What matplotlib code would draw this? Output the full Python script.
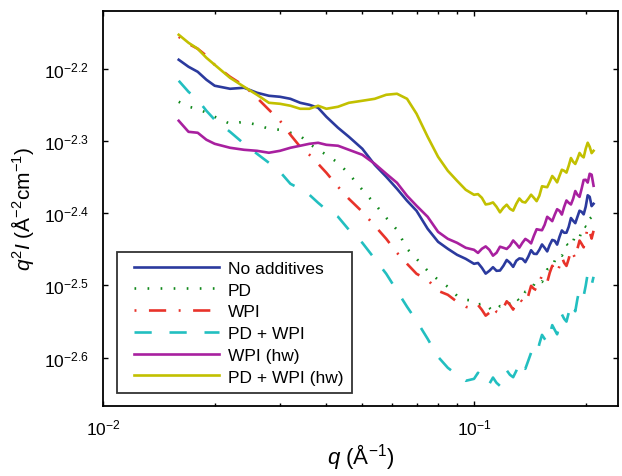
import numpy as np
import matplotlib
matplotlib.use("Agg")
import matplotlib.pyplot as plt
from matplotlib.ticker import FixedLocator, NullLocator, FixedFormatter
from matplotlib.legend_handler import HandlerLine2D
from matplotlib.lines import Line2D

plt.rcParams['font.family'] = ['Liberation Sans', 'DejaVu Sans']
plt.rcParams['mathtext.fontset'] = 'custom'
plt.rcParams['mathtext.rm'] = 'Liberation Sans'
plt.rcParams['mathtext.it'] = 'Liberation Sans:italic'
plt.rcParams['lines.scale_dashes'] = False

# scattering vector q (1/Angstrom)
q = [0.016, 0.017, 0.018, 0.019, 0.020, 0.022, 0.024, 0.026, 0.028, 0.030,
     0.032, 0.034, 0.036, 0.038, 0.040, 0.043, 0.046, 0.050, 0.054, 0.058,
     0.062, 0.066, 0.070, 0.075, 0.080, 0.085, 0.090, 0.095,
     0.1000, 0.1025, 0.1050, 0.1075, 0.1100, 0.1125, 0.1150, 0.1175, 0.1200, 0.1225,
     0.1250, 0.1275, 0.1300, 0.1325, 0.1350, 0.1375, 0.1400, 0.1425, 0.1450, 0.1475,
     0.1500, 0.1525, 0.1550, 0.1575, 0.1600, 0.1625, 0.1650, 0.1675, 0.1700, 0.1725,
     0.1750, 0.1775, 0.1800, 0.1825, 0.1850, 0.1875, 0.1900, 0.1925, 0.1950, 0.1975,
     0.2000, 0.2025, 0.2050, 0.2075, 0.2100]

# log10 of q^2 I (A^-2 cm^-1) for each sample
log_no_additives = [
    -2.1875, -2.1972, -2.2042, -2.2152, -2.2235, -2.2277, -2.2263, -2.2332, -2.2374, -2.2388,
    -2.2416, -2.2471, -2.2499, -2.2540, -2.2665, -2.2817, -2.2942, -2.3108, -2.3330, -2.3496,
    -2.3662, -2.3828, -2.3967, -2.4216, -2.4396, -2.4493, -2.4576, -2.4632,
    -2.4701, -2.4689, -2.4756, -2.4837, -2.4798, -2.4748, -2.4798, -2.4794, -2.4729, -2.4648,
    -2.4687, -2.4743, -2.4659, -2.4626, -2.4632, -2.4678, -2.4604, -2.4513, -2.4562, -2.4565,
    -2.4507, -2.4433, -2.4479, -2.4529, -2.4438, -2.4370, -2.4382, -2.4435, -2.4327, -2.4239,
    -2.4271, -2.4270, -2.4188, -2.4067, -2.4105, -2.4138, -2.4050, -2.3966, -2.3981, -2.4016,
    -2.3911, -2.3752, -2.3773, -2.3902, -2.3870]
log_pd = [
    -2.2457, -2.2526, -2.2554, -2.2609, -2.2665, -2.2762, -2.2734, -2.2776, -2.2831, -2.2845,
    -2.2886, -2.2928, -2.3039, -2.3122, -2.3191, -2.3302, -2.3454, -2.3676, -2.3870, -2.4064,
    -2.4230, -2.4493, -2.4632, -2.4798, -2.4922, -2.5019, -2.5144, -2.5199,
    -2.5213, -2.5264, -2.5255, -2.5243, -2.5310, -2.5364, -2.5338, -2.5287, -2.5296, -2.5312,
    -2.5227, -2.5160, -2.5172, -2.5216, -2.5199, -2.5087, -2.5075, -2.5074, -2.4992, -2.4914,
    -2.4936, -2.4952, -2.4867, -2.4779, -2.4770, -2.4775, -2.4659, -2.4568, -2.4576, -2.4589,
    -2.4521, -2.4426, -2.4451, -2.4474, -2.4396, -2.4295, -2.4313, -2.4339, -2.4244, -2.4166,
    -2.4188, -2.4203, -2.4078, -2.4053, -2.4147]
log_wpi = [
    -2.1557, -2.1654, -2.1723, -2.1820, -2.1945, -2.2111, -2.2235, -2.2402, -2.2568, -2.2720,
    -2.2914, -2.3080, -2.3191, -2.3316, -2.3440, -2.3634, -2.3801, -2.3981, -2.4174, -2.4355,
    -2.4548, -2.4701, -2.4839, -2.4922, -2.5075, -2.5130, -2.5227, -2.5296,
    -2.5324, -2.5271, -2.5338, -2.5419, -2.5379, -2.5293, -2.5366, -2.5388, -2.5310, -2.5220,
    -2.5269, -2.5335, -2.5241, -2.5184, -2.5227, -2.5256, -2.5144, -2.5006, -2.5047, -2.5066,
    -2.4964, -2.4857, -2.4909, -2.4957, -2.4825, -2.4728, -2.4770, -2.4830, -2.4729, -2.4608,
    -2.4687, -2.4730, -2.4632, -2.4507, -2.4562, -2.4628, -2.4493, -2.4379, -2.4424, -2.4473,
    -2.4341, -2.4190, -2.4258, -2.4351, -2.4244]
log_pd_wpi = [
    -2.2166, -2.2319, -2.2429, -2.2582, -2.2706, -2.2873, -2.3039, -2.3177, -2.3302, -2.3427,
    -2.3593, -2.3662, -2.3745, -2.3856, -2.3953, -2.4050, -2.4230, -2.4410, -2.4632, -2.4839,
    -2.5075, -2.5296, -2.5490, -2.5740, -2.5989, -2.6141, -2.6238, -2.6321,
    -2.6294, -2.6210, -2.6266, -2.6375, -2.6363, -2.6276, -2.6349, -2.6392, -2.6294, -2.6176,
    -2.6238, -2.6271, -2.6183, -2.6055, -2.6086, -2.6155, -2.6044, -2.5933, -2.5961, -2.5985,
    -2.5809, -2.5685, -2.5740, -2.5792, -2.5684, -2.5550, -2.5615, -2.5677, -2.5559, -2.5401,
    -2.5463, -2.5501, -2.5379, -2.5245, -2.5310, -2.5358, -2.5186, -2.5048, -2.5089, -2.5147,
    -2.5005, -2.4837, -2.4909, -2.4995, -2.4881]
log_wpi_hw = [
    -2.2720, -2.2873, -2.2886, -2.2983, -2.3039, -2.3094, -2.3122, -2.3136, -2.3163, -2.3136,
    -2.3094, -2.3066, -2.3039, -2.3025, -2.3053, -2.3066, -2.3122, -2.3191, -2.3316, -2.3454,
    -2.3579, -2.3759, -2.3897, -2.4050, -2.4258, -2.4355, -2.4410, -2.4479,
    -2.4507, -2.4550, -2.4493, -2.4460, -2.4507, -2.4588, -2.4548, -2.4464, -2.4479, -2.4495,
    -2.4451, -2.4378, -2.4424, -2.4477, -2.4410, -2.4356, -2.4382, -2.4418, -2.4313, -2.4222,
    -2.4230, -2.4236, -2.4161, -2.4050, -2.4078, -2.4110, -2.4022, -2.3945, -2.3967, -2.4019,
    -2.3911, -2.3824, -2.3856, -2.3879, -2.3801, -2.3693, -2.3745, -2.3774, -2.3662, -2.3540,
    -2.3537, -2.3576, -2.3454, -2.3467, -2.3620]
log_pd_wpi_hw = [
    -2.1529, -2.1640, -2.1723, -2.1848, -2.1945, -2.2125, -2.2249, -2.2360, -2.2471, -2.2485,
    -2.2512, -2.2554, -2.2554, -2.2512, -2.2554, -2.2526, -2.2471, -2.2443, -2.2416, -2.2360,
    -2.2346, -2.2416, -2.2623, -2.2942, -2.3219, -2.3413, -2.3551, -2.3676,
    -2.3745, -2.3736, -2.3787, -2.3879, -2.3870, -2.3851, -2.3911, -2.3988, -2.3925, -2.3882,
    -2.3939, -2.3965, -2.3870, -2.3796, -2.3842, -2.3852, -2.3801, -2.3744, -2.3787, -2.3833,
    -2.3759, -2.3627, -2.3634, -2.3640, -2.3565, -2.3485, -2.3524, -2.3573, -2.3482, -2.3398,
    -2.3413, -2.3438, -2.3343, -2.3236, -2.3288, -2.3318, -2.3247, -2.3166, -2.3205, -2.3227,
    -2.3108, -2.3024, -2.3080, -2.3168, -2.3136]

labels = ["No additives", "PD", "WPI", "PD + WPI", "WPI (hw)", "PD + WPI (hw)"]
colors = ["#2b3a9e", "#11891b", "#e8332a", "#22bfc0", "#a8209f", "#c2c000"]

y_ticks_exp = [-2.6, -2.5, -2.4, -2.3, -2.2]
x_ticks = [0.01, 0.1]

lw = 1.9
styles = [
    dict(linestyle='-'),
    dict(linestyle=(0, (1.2, 8.2)), dash_capstyle='butt'),
    dict(linestyle=(0, (1.4, 9.0, 12.4, 9.0)), dash_capstyle='butt'),
    dict(linestyle=(0, (12.4, 12.8)), dash_capstyle='butt'),
    dict(linestyle='-'),
    dict(linestyle='-'),
]

fig = plt.figure(figsize=(6.22, 4.77), dpi=100)
ax = fig.add_axes([103 / 622, 70 / 477, 515 / 622, 395 / 477])

series = [log_no_additives, log_pd, log_wpi, log_pd_wpi, log_wpi_hw, log_pd_wpi_hw]
for vals, lab, col, st in zip(series, labels, colors, styles):
    ax.plot(q, 10 ** np.asarray(vals), color=col, lw=lw, label=lab, **st)

ax.set_xscale('log')
ax.set_yscale('log')
ax.set_xlim(0.01, 0.2444)
ax.set_ylim(10 ** -2.667, 10 ** -2.12)

ax.yaxis.set_major_locator(FixedLocator([10 ** e for e in y_ticks_exp]))
ax.yaxis.set_major_formatter(FixedFormatter([r'$10^{%.1f}$' % e for e in y_ticks_exp]))
ax.yaxis.set_minor_locator(NullLocator())
ax.xaxis.set_major_locator(FixedLocator(x_ticks))
ax.xaxis.set_major_formatter(FixedFormatter([r'$10^{-2}$', r'$10^{-1}$']))
ax.xaxis.set_minor_locator(FixedLocator([0.02, 0.03, 0.04, 0.05, 0.06, 0.07, 0.08, 0.09, 0.2]))

ax.tick_params(which='both', direction='in', top=True, right=True, width=1.0,
               labelsize=12.5, colors='black')
ax.tick_params(which='major', length=3.8)
ax.tick_params(which='minor', length=2.3)
ax.tick_params(axis='y', pad=10)
ax.tick_params(axis='x', pad=8)
for sp in ax.spines.values():
    sp.set_linewidth(1.3)

ax.set_xlabel(r'$\mathit{q}$ (Å$^{-1}$)', fontsize=16, labelpad=3)
ax.set_ylabel(r'$\mathit{q}^{2}\mathit{I}$ (Å$^{-2}$cm$^{-1}$)', fontsize=15, labelpad=6)

leg = ax.legend(loc='upper left', bbox_to_anchor=(0.027, 0.39), fontsize=12.5,
                handlelength=5.4, handletextpad=0.5, labelspacing=0.38,
                borderpad=0.5, borderaxespad=0.0, frameon=True, fancybox=False,
                handler_map={Line2D: HandlerLine2D(xpad=0.5)})
leg.get_frame().set_edgecolor('black')
leg.get_frame().set_linewidth(1.3)

fig.savefig('out.png', dpi=100)
